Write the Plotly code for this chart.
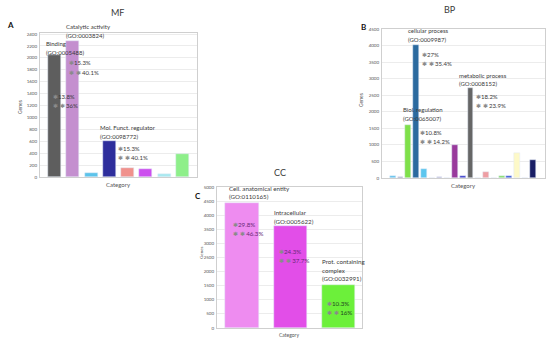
import plotly.graph_objects as go

W, H = 550, 343

# ---------------- data ----------------
mf_categories = ["Binding", "Catalytic activity", "MF3", "Mol. Funct. regulator",
                 "MF5", "MF6", "MF7", "MF8"]
mf_values = [2040, 2280, 62, 600, 146, 128, 55, 380]

bp_categories = ["BP1", "BP2", "Biol. regulation", "cellular process", "BP5", "BP6",
                 "BP7", "BP8", "BP9", "BP10", "metabolic process", "BP12", "BP13",
                 "BP14", "BP15", "BP16", "BP17", "BP18", "BP19"]
bp_values = [75, 45, 1600, 4010, 265, 15, 30, 8, 1005, 65, 2710, 8, 185, 8, 60, 65,
             755, 8, 540]

cc_categories = ["Cell. anatomical entity", "Intracellular", "Prot. containing complex"]
cc_values = [4440, 3620, 1530]

mf_ticks = list(range(0, 2401, 200))
bp_ticks = list(range(0, 4501, 500))
cc_ticks = list(range(0, 5001, 500))

# ---------------- styles ----------------
mf_colors = ["#5e5e5e", "#c48fcf", "#5cc3ea", "#2e2e9c", "#f0918c", "#cc4fee",
             "#a9e9ef", "#8eef8a"]
bp_colors = ["#62c2ec", "#8a86a8", "#7fe04a", "#2b6a9f", "#5cc6ee", "#c9c0e0",
             "#a9a3c9", "#dddddd", "#993a9c", "#3a3ac8", "#666666", "#dddddd",
             "#ee9ea3", "#dddddd", "#84dc6a", "#3a56d6", "#fdf9c8", "#dddddd", "#1a1f66"]
cc_colors = ["#ee8cf0", "#e24ee8", "#6cf03a"]

FONT = "Lato"
TXT = "#3a3a3a"


def px(x, y):
    return x / W, 1 - y / H


fig = go.Figure()
fig.add_trace(go.Bar(x=list(range(len(mf_values))), y=mf_values, marker_color=mf_colors,
                     width=0.71, xaxis="x", yaxis="y", hovertext=mf_categories))
fig.add_trace(go.Bar(x=list(range(len(bp_values))), y=bp_values, marker_color=bp_colors,
                     width=0.75, xaxis="x2", yaxis="y2", hovertext=bp_categories))
fig.add_trace(go.Bar(x=list(range(len(cc_values))), y=cc_values, marker_color=cc_colors,
                     width=0.69, xaxis="x3", yaxis="y3", hovertext=cc_categories))


def xax(dom, rng, anchor):
    return dict(domain=dom, range=rng, anchor=anchor, showticklabels=False, ticks="",
                showgrid=False, zeroline=False, showline=True, mirror=True,
                linecolor="#cfcfcf", linewidth=1, fixedrange=True, automargin=False)


def yax(dom, rng, anchor, ticks):
    return dict(domain=dom, range=rng, anchor=anchor, tickvals=ticks,
                ticktext=[str(t) for t in ticks], ticks="", showgrid=True,
                gridcolor="#ececec", gridwidth=1, zeroline=False, showline=True,
                mirror=True, linecolor="#cfcfcf", linewidth=1, automargin=False,
                tickfont=dict(size=4.5, color="#555", family=FONT), ticklabelstandoff=1)


fig.update_layout(
    width=W, height=H, margin=dict(l=0, r=0, t=0, b=0, autoexpand=False),
    paper_bgcolor="white", plot_bgcolor="white", showlegend=False,
    bargap=0,
    xaxis=xax([40 / W, 197 / W], [-0.79, 7.79], "y"),
    yaxis=yax([1 - 177 / H, 1 - 33 / H], [0, 2417], "x", mf_ticks),
    xaxis2=xax([382 / W, 545 / W], [-1.39, 19.58], "y2"),
    yaxis2=yax([1 - 178 / H, 1 - 29 / H], [0, 4500], "x2", bp_ticks),
    xaxis3=xax([217 / W, 362 / W], [-0.52, 2.49], "y3"),
    yaxis3=yax([1 - 328 / H, 1 - 187 / H], [0, 5000], "x3", cc_ticks),
)

ann = []


def text(x, y, s, size=6, color=TXT, anchor="left", bold=False, angle=0):
    xx, yy = px(x, y)
    ann.append(dict(x=xx, y=yy, xref="paper", yref="paper", text=("<b>%s</b>" % s) if bold else s,
                    showarrow=False, xanchor=anchor, yanchor="middle", textangle=angle,
                    borderpad=0, font=dict(size=size, color=color, family=FONT)))


STAR = '<span style="color:#8a8a8a">✱</span>'


def pct(x, y, p1, p2, color=TXT, size=6, gap=9):
    text(x, y, STAR + p1, size=size, color=color)
    text(x, y + gap, STAR + " " + STAR + " " + p2, size=size, color=color)


# titles / panel letters
text(117, 13, "MF", size=9, anchor="center")
text(450, 10, "BP", size=9, anchor="center")
text(280, 172, "CC", size=9, anchor="center")
text(10, 25, "A", size=8, anchor="center", bold=True, color="#111")
text(363, 27, "B", size=8, anchor="center", bold=True, color="#111")
text(198, 196, "C", size=8, anchor="center", bold=True, color="#111")

# axis titles
text(118, 184, "Category", size=6, anchor="center", color="#555")
text(463, 185, "Category", size=6, anchor="center", color="#555")
text(289, 335, "Category", size=5, anchor="center", color="#555")
text(20, 107, "Genes", size=5, anchor="center", color="#555", angle=-90)
text(361, 100, "Genes", size=5, anchor="center", color="#555", angle=-90)
text(201, 253, "Genes", size=4.5, anchor="center", color="#555", angle=-90)

# MF annotations
text(65, 27, "Catalytic activity")
text(65, 35, "(GO:0003824)")
text(45, 43, "Binding")
text(45, 52, "(GO:0005488)")
pct(68, 63, "15.3%", "40.1%")
pct(52, 96, "13.8%", "36%")
text(99, 128, "Mol. Funct. regulator")
text(99, 137, "(GO:0098772)")
pct(117, 148, "15.3%", "40.1%")

# BP annotations
text(407, 31, "cellular process")
text(407, 39.5, "(GO:0009987)")
pct(421, 54.5, "27%", "35.4%")
text(458, 75, "metabolic process")
text(458, 83.5, "(GO:0008152)")
pct(475, 96, "18.2%", "23.9%")
text(402, 110, "Biol. regulation")
text(402, 118.5, "(GO:0065007)")
pct(419, 132, "10.8%", "14.2%")

# CC annotations
CS = 6.2
text(228, 188.5, "Cell. anatomical entity", size=CS)
text(228, 197, "(GO:0110165)", size=CS)
pct(232, 224.5, "29.8%", "46.3%", color="#6a2a78", size=CS)
text(273, 212.5, "Intracellular", size=CS)
text(273, 221.5, "(GO:0005622)", size=CS)
pct(278, 251, "24.3%", "37.7%", color="#6a2a78", size=CS)
text(321, 261.5, "Prot. containing", size=CS)
text(321, 270, "complex", size=CS)
text(321, 278.5, "(GO:0032991)", size=CS)
pct(326, 303.5, "10.3%", "16%", color="#1f4a1f", size=CS)

fig.update_layout(annotations=ann)
fig.write_html("out.html", config={"displayModeBar": False},
               post_script="document.body.style.margin='0';document.body.style.padding='0';")
